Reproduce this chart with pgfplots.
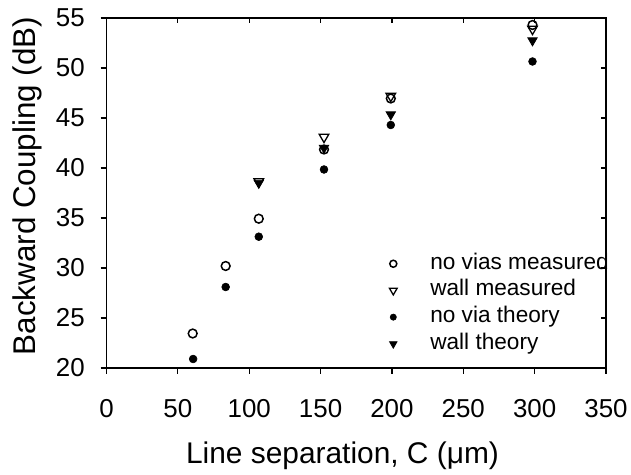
\documentclass[border=0pt]{standalone}
\usepackage{fontspec}
\setmainfont{Liberation Sans}
\usepackage{pgfplots}
\pgfplotsset{compat=1.18}
\newcommand\tickfont{\fontsize{26}{30}\selectfont}
\begin{document}
\begin{tikzpicture}[x=1bp,y=1bp]
\useasboundingbox (0,0) rectangle (631,475);
\begin{axis}[
  at={(106.5bp,107bp)}, anchor=south west,
  scale only axis, width=499.5bp, height=350bp,
  xmin=0, xmax=350, ymin=20, ymax=55,
  xtick={0,50,...,350}, ytick={20,25,...,55},
  axis line style={line width=1.8bp},
  tick align=outside, xtick pos=lower, ytick pos=left,
  major tick length=6bp,
  major tick style={line width=1.2bp, black},
  /pgf/number format/assume math mode=true,
  xticklabel={\pgfmathprintnumber{\tick}},
  yticklabel={\pgfmathprintnumber{\tick}},
  tick label style={font=\tickfont},
  xticklabel style={anchor=base, yshift=-44bp},
  yticklabel style={anchor=east, inner sep=0pt, xshift=-15.5bp},
  every axis x label/.style={at={(axis description cs:0.4725,-0.274)}, anchor=base, font=\fontsize{30}{36}\selectfont},
  every axis y label/.style={at={(axis description cs:-0.1431,0.52)}, rotate=90, anchor=base, font=\fontsize{31.5}{37}\selectfont},
  xlabel={Line separation, C (μm)},
  ylabel={Backward Coupling (dB)},
  legend image code/.code={\path[draw=none,fill=none] (0bp,-3bp) rectangle (24bp,3bp);
     \draw[mark repeat=2,mark phase=2,#1, every mark/.append style={scale=0.8}] plot coordinates {(0bp,0bp) (12bp,0bp) (24bp,0bp)};},
  legend style={draw=none, fill=none, at={(axis description cs:1.006,0.0384)}, anchor=south east,
     inner sep=0pt, row sep=5.7bp,
     /tikz/every odd column/.append style={column sep=25bp},
     nodes={inner sep=0pt, text height=16bp, text depth=5bp, font=\fontsize{22.7}{27}\selectfont}},
  legend cell align=left,
]
\addplot[only marks, mark=o, mark size=4.4bp, mark options={line width=1.5bp, black}] coordinates {
 (60.4,23.45) (83.5,30.2) (106.7,34.93) (152.4,41.85) (199.2,46.95) (298.5,54.3)};
\addlegendentry{no vias measured}
\addplot[only marks, mark=triangle, mark size=5.6bp, mark options={rotate=180, line width=1.3bp, black}] coordinates {
 (106.7,38.65) (152.4,43.1) (199.2,47.2) (298.5,53.9)};
\addlegendentry{wall measured}
\addplot[only marks, mark=*, mark size=3.9bp, mark options={line width=0.6bp, black, fill=black}] coordinates {
 (60.7,20.9) (83.5,28.1) (106.7,33.13) (152.4,39.85) (199.2,44.3) (298.5,50.65)};
\addlegendentry{no via theory}
\addplot[only marks, mark=triangle*, mark size=5.4bp, mark options={rotate=180, line width=0.8bp, black, fill=black}] coordinates {
 (106.7,38.5) (152.4,42.0) (199.2,45.35) (298.5,52.75)};
\addlegendentry{wall theory}
\end{axis}
\begin{axis}[
  at={(106.5bp,107bp)}, anchor=south west,
  scale only axis, width=499.5bp, height=350bp,
  xmin=0, xmax=350, ymin=20, ymax=55,
  xtick={0,50,...,350}, ytick={20,25,...,55},
  axis line style={line width=1.8bp},
  tick align=inside, xtick pos=upper, ytick pos=right,
  major tick length=5bp,
  major tick style={line width=1.2bp, black},
  xticklabels={}, yticklabels={},
]
\end{axis}
\end{tikzpicture}
\end{document}
